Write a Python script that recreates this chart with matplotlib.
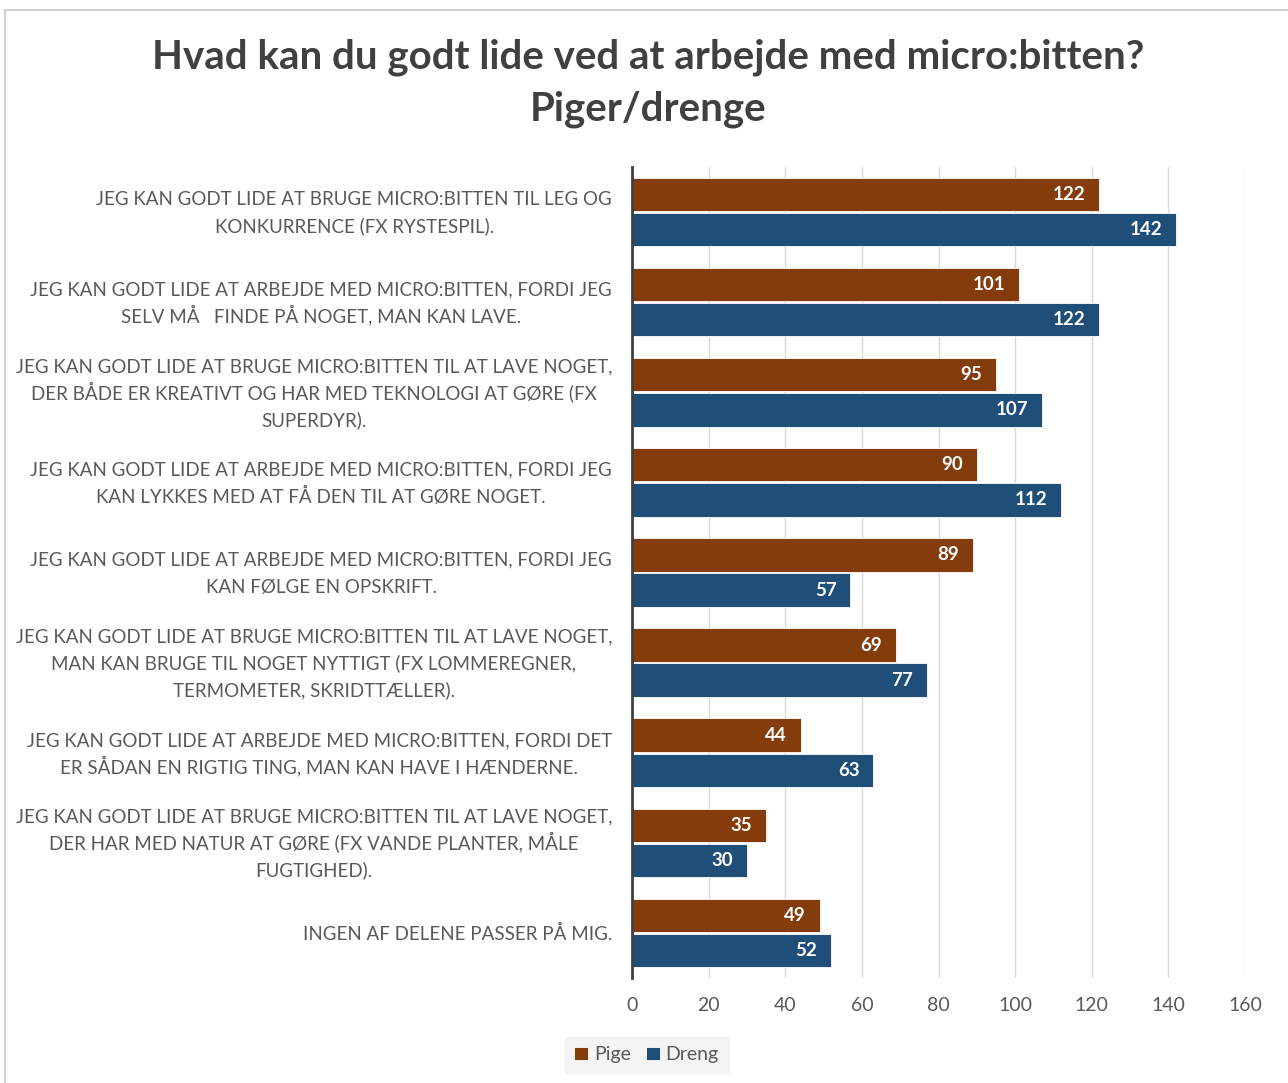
import numpy as np
import matplotlib.pyplot as plt
from matplotlib.patches import Rectangle
from matplotlib.transforms import blended_transform_factory, ScaledTranslation

# Data
categories = [
    "JEG KAN GODT LIDE AT BRUGE MICRO:BITTEN TIL LEG OG\nKONKURRENCE (FX RYSTESPIL).",
    "JEG KAN GODT LIDE AT ARBEJDE MED MICRO:BITTEN, FORDI JEG\nSELV MÅ   FINDE PÅ NOGET, MAN KAN LAVE.",
    "JEG KAN GODT LIDE AT BRUGE MICRO:BITTEN TIL AT LAVE NOGET,\nDER BÅDE ER KREATIVT OG HAR MED TEKNOLOGI AT GØRE (FX\nSUPERDYR).",
    "JEG KAN GODT LIDE AT ARBEJDE MED MICRO:BITTEN, FORDI JEG\nKAN LYKKES MED AT FÅ DEN TIL AT GØRE NOGET.",
    "JEG KAN GODT LIDE AT ARBEJDE MED MICRO:BITTEN, FORDI JEG\nKAN FØLGE EN OPSKRIFT.",
    "JEG KAN GODT LIDE AT BRUGE MICRO:BITTEN TIL AT LAVE NOGET,\nMAN KAN BRUGE TIL NOGET NYTTIGT (FX LOMMEREGNER,\nTERMOMETER, SKRIDTTÆLLER).",
    "JEG KAN GODT LIDE AT ARBEJDE MED MICRO:BITTEN, FORDI DET\nER SÅDAN EN RIGTIG TING, MAN KAN HAVE I HÆNDERNE.",
    "JEG KAN GODT LIDE AT BRUGE MICRO:BITTEN TIL AT LAVE NOGET,\nDER HAR MED NATUR AT GØRE (FX VANDE PLANTER, MÅLE\nFUGTIGHED).",
    "INGEN AF DELENE PASSER PÅ MIG.",
]
pige = [122, 101, 95, 90, 89, 69, 44, 35, 49]
dreng = [142, 122, 107, 112, 57, 77, 63, 30, 52]
series_names = ["Pige", "Dreng"]
xticks = [0, 20, 40, 60, 80, 100, 120, 140, 160]

plt.rcParams['font.family'] = ['Lato', 'DejaVu Sans']

c_pige = "#843C0C"
c_dreng = "#1F4E79"
label_color = "#595959"

fig = plt.figure(figsize=(12.88, 10.83), dpi=100)
ax = fig.add_axes([0.4907, 0.0970, 0.4759, 0.7488])

# Outer chart border
fig.patches.append(Rectangle((0.004, -0.01), 1.2, 1.0008, transform=fig.transFigure,
                             fill=False, edgecolor="#c8c8c8", linewidth=1.2))

y = np.arange(len(categories))
h = 0.37
b1 = ax.barh(y - h / 2 - 0.01, pige, height=h, color=c_pige, edgecolor="white",
             linewidth=0.6, label=series_names[0], zorder=3)
b2 = ax.barh(y + h / 2 + 0.01, dreng, height=h, color=c_dreng, edgecolor="white",
             linewidth=0.6, label=series_names[1], zorder=3)

for bars in (b1, b2):
    labels = ax.bar_label(bars, padding=-10, color="white", fontsize=13.5, fontweight="bold")
    for t in labels:
        t.set_horizontalalignment("right")

ax.set_ylim(len(categories) - 0.5, -0.5)
ax.set_xlim(0, 160)
ax.set_xticks(xticks)
ax.set_yticks(y)
ax.set_yticklabels([])
ax.tick_params(axis="x", labelsize=14, labelcolor=label_color, length=0, pad=14)
ax.tick_params(axis="y", length=0)
ax.grid(axis="x", color="#d9d9d9", linewidth=1, zorder=0)
for s in ["top", "right", "bottom"]:
    ax.spines[s].set_visible(False)
ax.spines["left"].set_color("#404040")
ax.spines["left"].set_linewidth(2)
ax.spines["left"].set_zorder(4)

# Category labels: evenly spaced lines, centred within a right-aligned block
renderer = fig.canvas.get_renderer()
trans = blended_transform_factory(ax.transAxes, ax.transData)
line_px = 27
right_gap_px = 20
cap_half_px = 6.8
for yi, cat in zip(y, categories):
    lines = cat.split("\n")
    texts = []
    for i, line in enumerate(lines):
        dy = -(i - (len(lines) - 1) / 2) * line_px - cap_half_px
        t = ax.text(0, yi, line, fontsize=13.5, color=label_color, ha="center",
                    va="baseline", transform=trans)
        texts.append((t, dy))
    width = max(t.get_window_extent(renderer).width for t, _ in texts)
    for t, dy in texts:
        dx = -(right_gap_px + width / 2)
        t.set_transform(trans + ScaledTranslation(dx / 100, dy / 100, fig.dpi_scale_trans))

fig.text(0.503, 1 - 83.5 / 1083,
         "Hvad kan du godt lide ved at arbejde med micro:bitten?\nPiger/drenge",
         ha="center", va="center", fontsize=29, fontweight="bold", color="#404040",
         linespacing=1.5)

leg = fig.legend(handles=[b1, b2], labels=series_names, loc="center",
                 bbox_to_anchor=(0.502, 0.026), ncol=2, frameon=True, fontsize=14,
                 handlelength=0.7, handleheight=0.7, handletextpad=0.3,
                 columnspacing=0.8, borderpad=0.5)
leg.get_frame().set_facecolor("#f2f2f2")
leg.get_frame().set_edgecolor("#f2f2f2")
leg.get_frame().set_boxstyle("square", pad=0)
for t in leg.get_texts():
    t.set_color(label_color)

fig.savefig("out.png", dpi=100)
